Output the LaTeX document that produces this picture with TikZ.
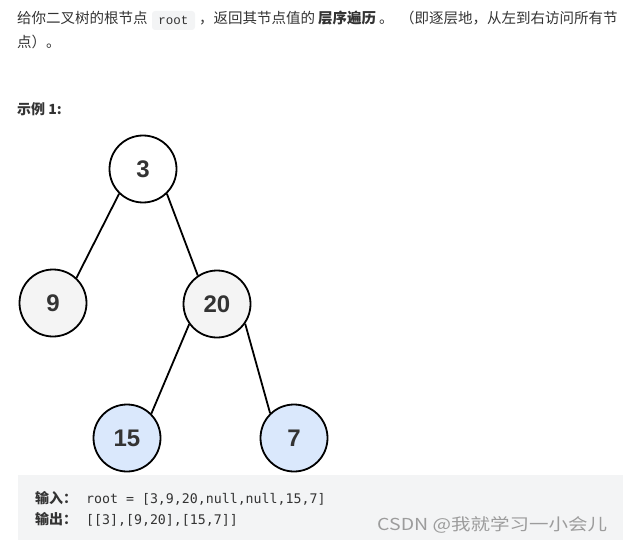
\documentclass[tikz,border=0pt]{standalone}
\usepackage{graphicx}
\usepackage{fontspec}
\setmainfont{Noto Sans CJK SC}
\newfontfamily\cjk{Noto Sans CJK SC}
\newfontfamily\numfont{Liberation Sans}
\newfontfamily\codefont{DejaVu Sans Mono}
\newfontfamily\inlinecode{Liberation Mono}
\definecolor{txt}{HTML}{333333}
\definecolor{codebg}{HTML}{F3F4F5}
\definecolor{graybg}{HTML}{F4F4F4}
\definecolor{bluebg}{HTML}{DAE8FC}
\definecolor{wm}{HTML}{9C9C9C}
\tikzset{
  tnode/.style={circle, draw=black, line width=1.8pt, minimum size=67pt, inner sep=0pt,
    font=\numfont\bfseries\fontsize{24pt}{28pt}\selectfont, text=txt},
  edge/.style={line width=1.8pt, black},
  para/.style={anchor=base west, inner sep=0pt, text=txt, font=\cjk\fontsize{14.5pt}{17pt}\selectfont},
  codetxt/.style={anchor=base west, inner sep=0pt, text=txt, font=\codefont\fontsize{13.25pt}{16pt}\selectfont},
  codelbl/.style={anchor=base west, inner sep=0pt, text=txt, font=\cjk\bfseries\fontsize{14pt}{17pt}\selectfont}
}
\begin{document}
\begin{tikzpicture}[x=1pt,y=-1pt]
\useasboundingbox (0,0) rectangle (623,540);
% top paragraph
\node[para] (t1) at (17,23.5) {给你二叉树的根节点};
\fill[codebg, rounded corners=3pt] (152,11) rectangle (195,30);
\node[anchor=base, inner sep=0pt, text=txt, font=\inlinecode\fontsize{12.5pt}{15pt}\selectfont] (rt) at (173.5,24.5) {root};
\node[para] (t2) at (199,23.5) {，返回其节点值的};
\node[para, font=\cjk\bfseries\fontsize{14.5pt}{17pt}\selectfont] (t3) at (318,23.5) {层序遍历};
\node[para] (t4) at (379,23.5) {。};
\node[para] (t5) at (400,23.5) {（即逐层地，从左到右访问所有节};
\node[para] (t6) at (17,48) {点）。};
\node[para, font=\cjk\bfseries\fontsize{14pt}{17pt}\selectfont] (ex) at (17,115) {示例 1:};
% tree
\node[tnode, fill=white] (r) at (143,169) {3};
\node[tnode, fill=graybg] (n9) at (53,303) {9};
\node[tnode, fill=graybg] (n20) at (217,304) {20};
\node[tnode, fill=bluebg] (n15) at (127,438) {15};
\node[tnode, fill=bluebg] (n7) at (294,438) {7};
\draw[edge] (r.226) -- (n9.47);
\draw[edge] (r.314) -- (n20.124);
\draw[edge] (n20.216) -- (n15.45);
\draw[edge] (n20.325) -- (n7.134);
% code block
\fill[codebg] (18,475) rectangle (623,540);
\node[codelbl] (in) at (35,503) {输入：};
\node[codetxt] (inv) at (86,503) {root = [3,9,20,null,null,15,7]};
\node[codelbl] (out) at (35,524) {输出：};
\node[codetxt] (outv) at (86,524) {[[3],[9,20],[15,7]]};
\node[anchor=base west, inner sep=0pt, text=wm] (wmk) at (377,530) {\resizebox{230pt}{14pt}{\cjk CSDN @我就学习一小会儿}};
\end{tikzpicture}
\end{document}
